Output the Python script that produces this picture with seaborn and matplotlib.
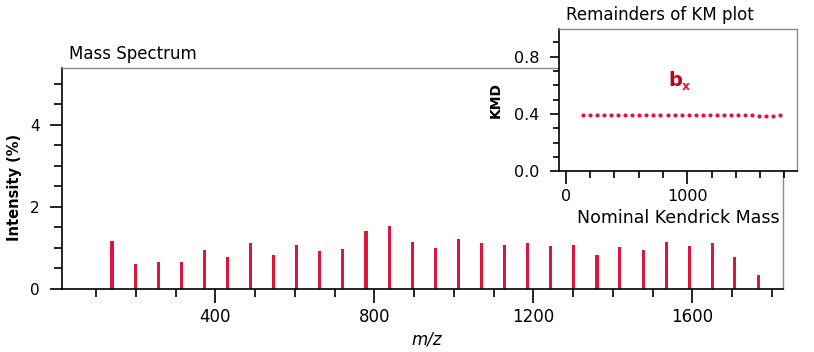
import matplotlib
matplotlib.use("Agg")
import matplotlib.pyplot as plt
import seaborn as sns
import numpy as np
import pandas as pd
from matplotlib.ticker import MultipleLocator, FixedLocator

sns.set_theme(style="white")
plt.rcParams['font.family'] = ['DejaVu Sans']
plt.rcParams.update({"text.color": "black", "axes.labelcolor": "black",
                     "xtick.color": "black", "ytick.color": "black"})

# ---- data ----
mz = [140, 199, 257, 315, 372, 431, 489, 546, 604, 662, 720, 779, 837, 895, 954,
      1011, 1069, 1127, 1185, 1243, 1301, 1360, 1417, 1476, 1534, 1592, 1650, 1707, 1766]
intensity = [1.18, 0.62, 0.67, 0.67, 0.96, 0.79, 1.11, 0.84, 1.08, 0.93, 0.98, 1.42, 1.54, 1.15, 1.01,
             1.23, 1.11, 1.08, 1.11, 1.06, 1.08, 0.84, 1.03, 0.96, 1.15, 1.06, 1.11, 0.79, 0.35]
nkm = mz
kmd = [0.392, 0.392, 0.392, 0.392, 0.392, 0.392, 0.392, 0.392, 0.392, 0.392, 0.392, 0.393, 0.393, 0.393, 0.392,
       0.392, 0.392, 0.392, 0.392, 0.392, 0.392, 0.392, 0.392, 0.392, 0.392, 0.388, 0.386, 0.386, 0.390]

main_xticks = [400, 800, 1200, 1600]
main_yticks = [0, 2, 4]
inset_xticks = [0, 1000]
inset_yticks = [0.0, 0.4, 0.8]

RED = "#E0143C"

W, H = 814, 352
fig = plt.figure(figsize=(W / 100, H / 100), dpi=100)
fig.patch.set_facecolor("white")

def px_rect(l, t, r, b):
    return [l / W, 1 - b / H, (r - l) / W, (b - t) / H]

# ---- main spectrum ----
ax = fig.add_axes(px_rect(62, 68, 783, 289))
df = pd.DataFrame({"mz": mz, "intensity": intensity})
sns.barplot(data=df, x="mz", y="intensity", native_scale=True, width=0.14,
            color=RED, saturation=1, errorbar=None, linewidth=0, ax=ax)
ax.set_xlim(14, 1828)
ax.set_ylim(0, 5.39)
ax.xaxis.set_major_locator(FixedLocator(main_xticks))
ax.xaxis.set_minor_locator(MultipleLocator(100))
ax.yaxis.set_major_locator(FixedLocator(main_yticks))
ax.yaxis.set_minor_locator(MultipleLocator(0.5))
ax.set_xticklabels([str(v) for v in main_xticks])
ax.set_yticklabels([str(v) for v in main_yticks])
ax.tick_params(axis="x", which="major", direction="out", length=10, width=1.2,
               color="black", labelsize=12, pad=4, bottom=True, labelcolor="black")
ax.tick_params(axis="x", which="minor", direction="out", length=6, width=1.2,
               color="black", bottom=True)
ax.tick_params(axis="y", which="major", direction="out", length=9, width=1.2,
               color="black", labelsize=11, pad=7, left=True, labelcolor="black")
ax.tick_params(axis="y", which="minor", direction="out", length=5.5, width=1.2,
               color="black", left=True)
ax.set_xlabel("")
ax.set_ylabel("")
for s in ["left", "bottom"]:
    ax.spines[s].set_color("black")
    ax.spines[s].set_linewidth(1.2)
for s in ["top", "right"]:
    ax.spines[s].set_color("#8a8a8a")
    ax.spines[s].set_linewidth(1.0)
ax.set_facecolor("white")

fig.text(69 / W, 1 - 54 / H, "Mass Spectrum", fontsize=12, ha="left", va="center", color="black")
fig.text(15 / W, 1 - 187 / H, "Intensity (%)", fontsize=10.5, fontweight="bold",
         rotation=90, ha="center", va="center", color="black")
fig.text(427 / W, 1 - 340 / H, "m/z", fontsize=12, style="italic", ha="center", va="center",
         color="black")

# ---- inset KMD plot ----
axin = fig.add_axes(px_rect(559.3, 29.3, 796.7, 171.3))
axin.set_facecolor("white")
dk = pd.DataFrame({"nkm": nkm, "kmd": kmd})
sns.scatterplot(data=dk, x="nkm", y="kmd", color=RED, s=9, linewidth=0,
                marker="o", ax=axin)
axin.set_xlim(-55, 1902)
axin.set_ylim(0, 0.99)
axin.xaxis.set_major_locator(FixedLocator(inset_xticks))
axin.xaxis.set_minor_locator(MultipleLocator(200))
axin.yaxis.set_major_locator(FixedLocator(inset_yticks))
axin.yaxis.set_minor_locator(MultipleLocator(0.1))
axin.set_xticklabels([str(v) for v in inset_xticks])
axin.set_yticklabels(["%.1f" % v for v in inset_yticks])
axin.tick_params(axis="x", which="major", direction="out", length=9, width=1.2,
                 color="black", labelsize=11.5, pad=4, bottom=True, labelcolor="black")
axin.tick_params(axis="x", which="minor", direction="out", length=5, width=1.2,
                 color="black", bottom=True)
axin.tick_params(axis="y", which="major", direction="out", length=6.5, width=1.2,
                 color="black", labelsize=11.5, pad=8, left=True, labelcolor="black")
axin.tick_params(axis="y", which="minor", direction="out", length=4.3, width=1.2,
                 color="black", left=True)
axin.set_xlabel("")
axin.set_ylabel("")
for s in ["left", "bottom"]:
    axin.spines[s].set_color("black")
    axin.spines[s].set_linewidth(1.2)
for s in ["top", "right"]:
    axin.spines[s].set_color("#8a8a8a")
    axin.spines[s].set_linewidth(1.0)

axin.text(845, 0.635, "b", fontsize=14, fontweight="bold", color="#C00018",
          ha="left", va="center")
axin.text(955, 0.59, "x", fontsize=9, fontweight="bold", color="#E0143C",
          ha="left", va="center")

fig.text(660 / W, 1 - 15 / H, "Remainders of KM plot", fontsize=12, ha="center", va="center",
         color="black")
fig.text(496 / W, 1 - 100 / H, "KMD", fontsize=10, fontweight="bold",
         rotation=90, ha="center", va="center", color="black")
fig.text(678 / W, 1 - 218 / H, "Nominal Kendrick Mass", fontsize=12.5, ha="center", va="center",
         color="black")

fig.savefig("out.png", dpi=100, facecolor="white")
